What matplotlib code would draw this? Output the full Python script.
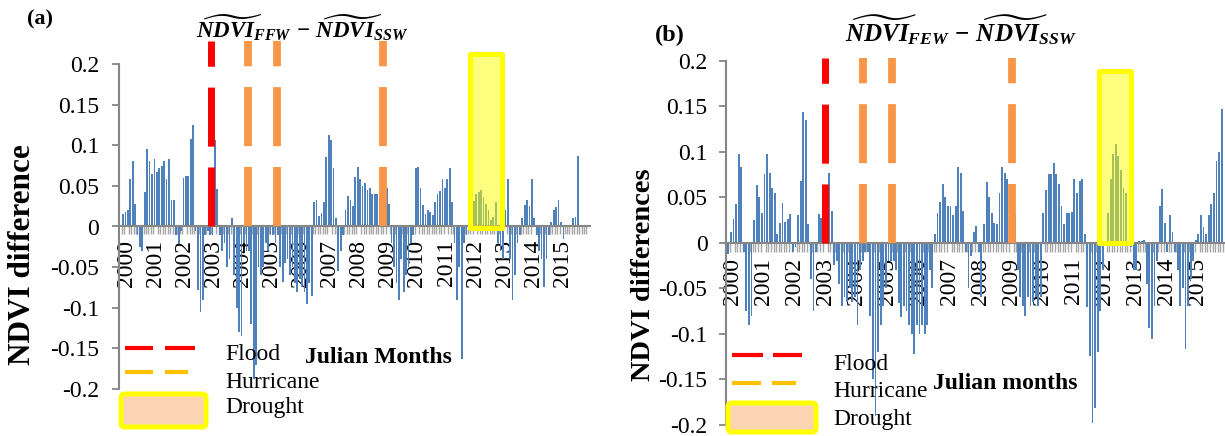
import matplotlib
matplotlib.use("Agg")
import matplotlib.pyplot as plt
import numpy as np
from matplotlib.lines import Line2D
from matplotlib.patches import Rectangle, FancyBboxPatch

plt.rcParams["font.family"] = ["Liberation Serif", "DejaVu Serif"]
plt.rcParams["mathtext.fontset"] = "custom"
plt.rcParams["mathtext.it"] = "Liberation Serif:italic:bold"
plt.rcParams["mathtext.rm"] = "Liberation Serif:bold"
plt.rcParams["mathtext.bf"] = "Liberation Serif:bold"
plt.rcParams["lines.scale_dashes"] = False

# ---- data -------------------------------------------------------------
years = list(range(2000, 2016))
year_labels = [str(y) for y in years]
yticks = [0.2, 0.15, 0.1, 0.05, 0, -0.05, -0.1, -0.15, -0.2]
ytick_labels = ["0.2", "0.15", "0.1", "0.05", "0", "-0.05", "-0.1", "-0.15", "-0.2"]

# monthly NDVI differences, FFW - SSW (panel a)
ffw_ssw = (
    [0.015, 0.018, 0.02, 0.058, 0.081, 0.028, -0.01, -0.025, -0.03, 0.043, 0.095, 0.08]
    + [0.065, 0.083, 0.067, 0.072, 0.074, 0.08, 0.058, 0.083, 0.032, 0.032, -0.01, -0.022]
    + [-0.005, 0.06, 0.062, 0.062, 0.108, 0.125, -0.005, -0.078, -0.105, -0.09, -0.01, -0.005]
    + [-0.01, -0.01, 0.107, 0.046, -0.01, -0.03, -0.02, -0.05, -0.04, 0.01, -0.06, -0.1]
    + [-0.13, -0.135, -0.02, -0.03, -0.03, -0.12, -0.188, -0.17, -0.05, -0.06, -0.05, -0.02]
    + [-0.03, -0.01, -0.01, -0.02, -0.01, -0.05, -0.068, -0.045, -0.04, -0.06, -0.05, -0.07]
    + [-0.08, -0.065, -0.075, -0.08, -0.095, -0.07, -0.085, 0.03, 0.033, 0.013, 0.016, 0.03]
    + [0.085, 0.113, 0.107, 0.072, 0.01, -0.055, -0.03, -0.01, 0.02, 0.037, 0.032, 0.025]
    + [0.061, 0.073, 0.058, 0.05, 0.053, 0.045, 0.047, 0.04, 0.04, 0.04, 0.035, 0.03]
    + [0.045, 0.047, 0.028, -0.02, -0.05, -0.07, -0.09, -0.04, -0.08, -0.06, -0.05, -0.02]
    + [-0.01, 0.072, 0.073, 0.047, 0.026, 0.015, 0.02, 0.018, 0.014, 0.03, 0.04, 0.044]
    + [0.058, 0.047, 0.058, 0.072, 0.03, -0.02, -0.09, -0.05, -0.163, -0.02, -0.01, 0.005]
    + [0.005, 0.031, 0.04, 0.043, 0.045, 0.036, 0.028, 0.02, 0.008, 0.012, 0.03, -0.02]
    + [-0.03, -0.04, 0.02, 0.058, -0.04, -0.09, -0.06, -0.02, -0.01, 0.01, 0.027, 0.033]
    + [0.025, 0.058, 0.01, -0.01, -0.03, -0.04, -0.075, -0.04, -0.01, 0.005, 0.02, 0.024]
    + [0.033, 0.005, -0.015, 0.002, 0.002, 0.002, 0.01, 0.012, 0.087, 0.0, 0.002, 0.0]
)

# monthly NDVI differences, FEW - SSW (panel b)
few_ssw = (
    [-0.012, 0.012, 0.026, 0.043, 0.098, 0.083, -0.01, -0.075, -0.09, -0.08, 0.025, 0.063]
    + [0.05, 0.033, 0.075, 0.097, 0.077, 0.06, 0.055, 0.01, 0.022, 0.044, 0.023, 0.026]
    + [0.032, -0.01, -0.005, 0.03, 0.068, 0.144, 0.135, 0.02, -0.04, -0.075, -0.01, 0.032]
    + [0.027, 0.02, 0.01, 0.077, 0.035, -0.025, -0.02, -0.045, -0.07, -0.06, -0.065, -0.05]
    + [-0.065, -0.06, -0.09, -0.03, -0.02, -0.01, -0.01, -0.08, -0.15, -0.19, -0.12, -0.09]
    + [-0.07, -0.05, -0.02, -0.02, -0.02, -0.03, -0.066, -0.082, -0.07, -0.075, -0.09, -0.1]
    + [-0.122, -0.09, -0.1, -0.09, -0.1, -0.09, -0.03, -0.05, 0.01, 0.033, 0.045, 0.064]
    + [0.05, 0.04, 0.04, 0.03, 0.04, 0.083, 0.077, 0.035, -0.01, -0.05, -0.015, 0.012]
    + [0.018, -0.01, -0.06, 0.02, 0.067, 0.05, 0.033, 0.022, 0.02, 0.055, 0.083, 0.077]
    + [0.07, 0.05, 0.04, 0.03, -0.03, -0.06, -0.07, -0.08, -0.06, -0.07, -0.065, -0.06]
    + [-0.07, -0.06, 0.033, 0.058, 0.075, 0.075, 0.088, 0.075, 0.065, 0.04, 0.02, 0.033]
    + [0.033, 0.034, 0.07, 0.055, 0.068, 0.07, 0.01, -0.071, -0.125, -0.198, -0.182, -0.12]
    + [-0.075, -0.03, 0.002, 0.033, 0.07, 0.098, 0.108, 0.095, 0.08, 0.06, 0.055, 0.0]
    + [-0.005, -0.03, -0.03, 0.002, 0.002, 0.003, -0.045, -0.094, -0.106, -0.07, -0.02, 0.04]
    + [0.059, 0.022, -0.01, 0.03, 0.012, -0.01, -0.03, -0.07, -0.05, -0.117, -0.07, -0.04]
    + [-0.02, 0.003, 0.01, 0.03, 0.017, 0.01, 0.03, 0.043, 0.055, 0.09, 0.1, 0.147]
)

# event months (index from Jan 2000)
flood_a = [36.2]
hurricanes_a = [51.7, 63.6, 107.4]
drought_a = (143.6, 156.8)
flood_b = [37.6]
hurricanes_b = [52.1, 63.4, 109.9]
drought_b = (143.7, 156.1)

BLUE = "#4F81BD"
RED = "#FF0000"
ORANGE = "#F79646"
GOLD = "#FFC000"
YELLOW = "#FFFF00"
GRAY = "#868686"

W, H = 1225, 436
fig = plt.figure(figsize=(W / 100, H / 100), dpi=100)


def px_axes(x0, y0, x1, y1):
    return fig.add_axes([x0 / W, 1 - y1 / H, (x1 - x0) / W, (y1 - y0) / H])


def draw_panel(ax, values, xlim, flood, hurricanes, drought, top, box_y,
               xpad, minor_len, ypad):
    # spine position first: moving it resets the tick objects
    ax.spines["bottom"].set_position(("data", 0))
    for side in ["top", "right"]:
        ax.spines[side].set_visible(False)
    for side in ["left", "bottom"]:
        ax.spines[side].set_color(GRAY)
        ax.spines[side].set_linewidth(1.5)
    ax.patch.set_alpha(0)

    months = np.arange(len(values))
    ax.bar(months, values, width=0.72, color=BLUE, zorder=2)
    ax.set_xlim(*xlim)
    ax.set_ylim(-0.2, 0.2)

    dash = (0, (42.5, 15))
    for m in flood:
        ax.plot([m, m], [0, top], color=RED, lw=5.0, ls=dash,
                dash_capstyle="butt", clip_on=False, zorder=3)
    for m in hurricanes:
        ax.plot([m, m], [0, top], color=ORANGE, lw=5.6, ls=dash,
                dash_capstyle="butt", clip_on=False, zorder=3)

    x0, x1 = drought
    ax.add_patch(Rectangle((x0, box_y[0]), x1 - x0, box_y[1] - box_y[0],
                           facecolor=(1, 1, 0, 0.5), edgecolor=YELLOW,
                           lw=3.6, joinstyle="round", zorder=4, clip_on=False))

    ax.set_yticks(yticks)
    ax.set_yticklabels(ytick_labels)
    ax.tick_params(axis="y", direction="out", length=4.8, width=1.3,
                   color=GRAY, pad=ypad, labelsize=17)

    year_pos = [12 * i + 1.5 for i in range(len(years))]
    ax.set_xticks(year_pos)
    ax.set_xticklabels(year_labels)
    ax.set_xticks(np.arange(-0.5, len(values)), minor=True)
    ax.tick_params(axis="x", which="major", length=0, pad=xpad,
                   labelsize=17, labelrotation=90)
    ax.tick_params(axis="x", which="minor", length=minor_len, width=1.0,
                   color="#A6A6A6", direction="out")


ax_a = px_axes(119, 64, 590, 389)
draw_panel(ax_a, ffw_ssw, (-1.65, 193.0), flood_a, hurricanes_a, drought_a,
           top=0.228, box_y=(-0.002, 0.2117), xpad=9.7, minor_len=5.5, ypad=9.4)

ax_b = px_axes(726, 60.7, 1225, 424.7)
draw_panel(ax_b, few_ssw, (-0.89, 192.3), flood_b, hurricanes_b, drought_b,
           top=0.203, box_y=(0.0, 0.189), xpad=11, minor_len=6.5, ypad=8.6)

# overlay in pixel coordinates for titles, labels and legends
ov = fig.add_axes([0, 0, 1, 1])
ov.set_xlim(0, W)
ov.set_ylim(H, 0)
ov.axis("off")
ov.patch.set_alpha(0)

ov.text(39.5, 19, "(a)", fontsize=16, fontweight="bold", ha="center", va="center")
ov.text(670, 35, "(b)", fontsize=17.5, fontweight="bold", ha="center", va="center")
ov.text(302, 28, r"$\widetilde{NDVI}_{FFW}\,-\,\widetilde{NDVI}_{SSW}$",
        fontsize=16.5, ha="center", va="center")
ov.text(961, 30, r"$\widetilde{NDVI}_{FEW}\,-\,\widetilde{NDVI}_{SSW}$",
        fontsize=18, ha="center", va="center")

ov.text(23, 255, "NDVI difference", fontsize=22.5, fontweight="bold",
        rotation=90, ha="center", va="center")
ov.text(643, 275, "NDVI differences", fontsize=20.5, fontweight="bold",
        rotation=90, ha="center", va="center")

ov.text(378, 357, "Julian Months", fontsize=17, fontweight="bold",
        ha="center", va="center")
ov.text(1005, 383, "Julian months", fontsize=17, fontweight="bold",
        ha="center", va="center")


def legend(x_line, y_flood, y_hur, box, x_text, baselines):
    for xs in x_line[0]:
        ov.add_line(Line2D(xs, [y_flood, y_flood], color=RED, lw=3.0,
                           solid_capstyle="butt"))
    for xs in x_line[1]:
        ov.add_line(Line2D(xs, [y_hur, y_hur], color=GOLD, lw=3.0,
                           solid_capstyle="butt"))
    bx0, by0, bx1, by1 = box
    ov.add_patch(FancyBboxPatch((bx0, by0), bx1 - bx0, by1 - by0,
                                boxstyle="round,pad=0,rounding_size=4",
                                facecolor="#FBD4B4", edgecolor=YELLOW, lw=3.6))
    for label, yb in zip(["Flood", "Hurricane", "Drought"], baselines):
        ov.text(x_text, yb, label, fontsize=17, ha="left", va="baseline")


legend(([[125, 153], [165, 195]], [[125, 153], [165, 188]]), 348, 372,
       (121, 394, 206, 427), 225, [360, 388, 413])
legend(([[732, 763], [773, 802]], [[732, 761], [772, 796]]), 355, 383,
       (728, 403, 816, 432), 833, [370, 397, 425])

fig.savefig("out.png", dpi=100)
plt.close(fig)
